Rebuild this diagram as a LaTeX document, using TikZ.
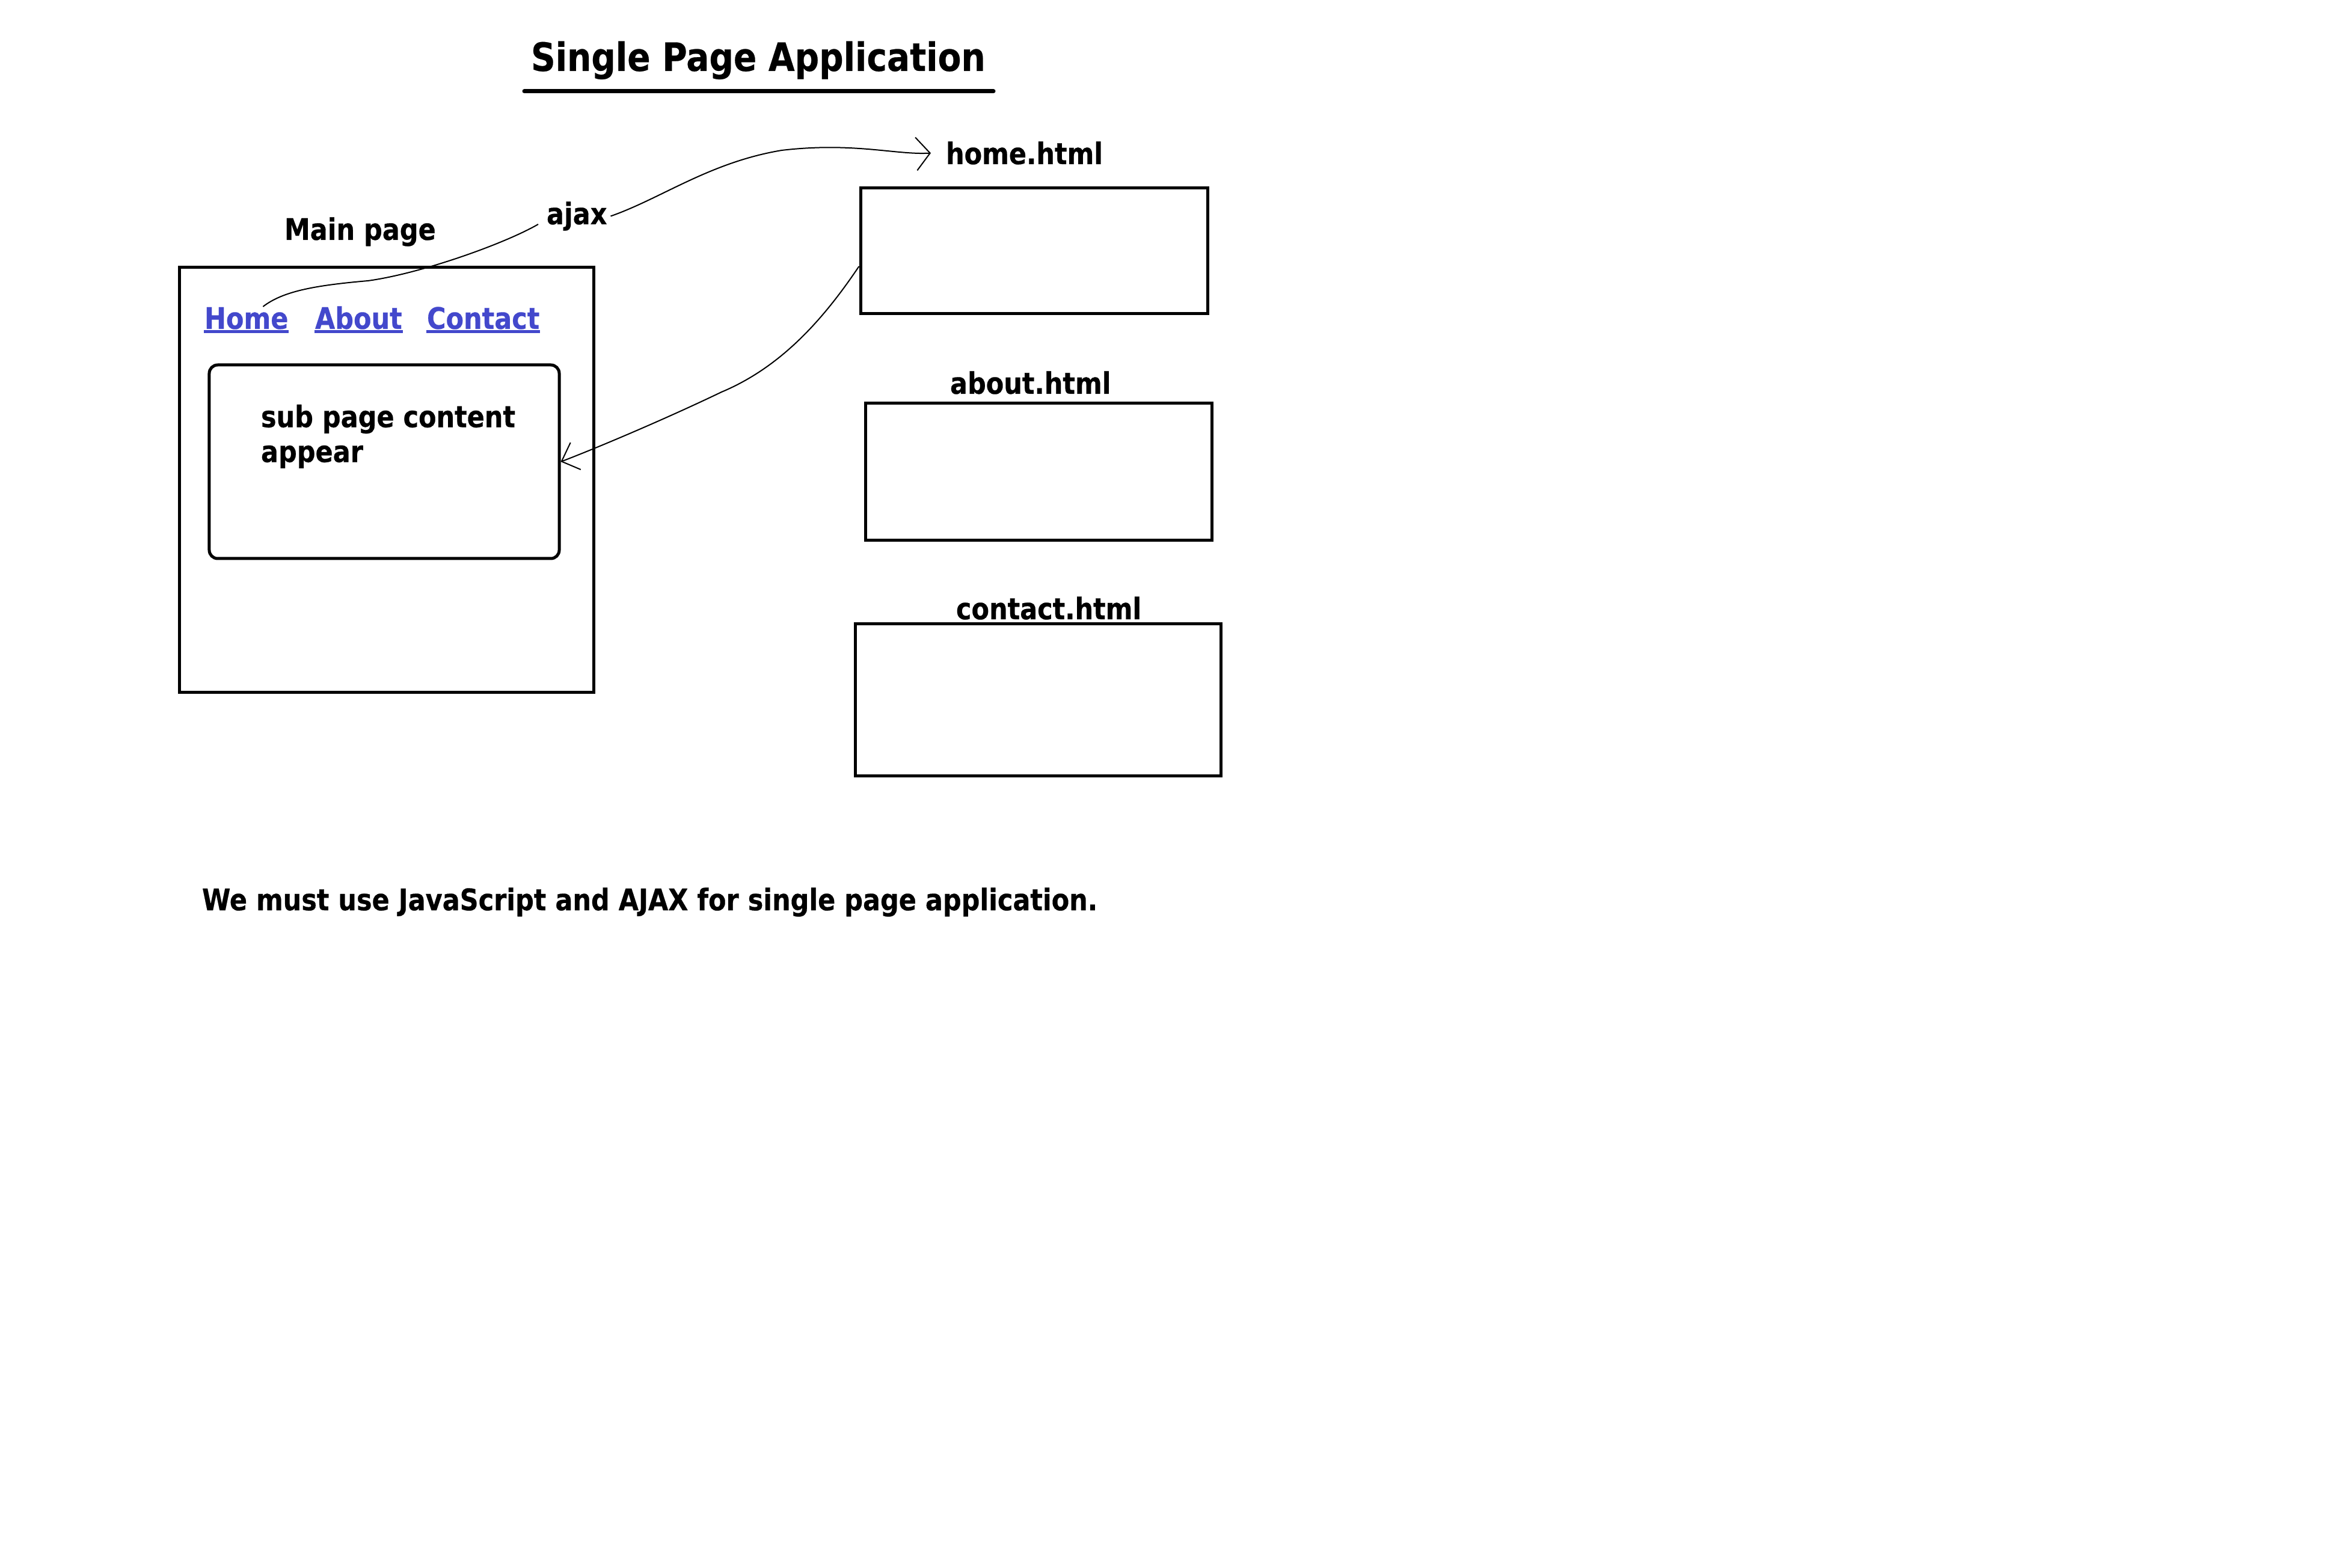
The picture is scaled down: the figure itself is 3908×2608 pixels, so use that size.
\documentclass[tikz,border=0pt]{standalone}
\usepackage{fontspec}
\newfontfamily\vf{DejaVu Sans Bold}[FakeStretch=0.87,FakeBold=0.4]
\usetikzlibrary{arrows.meta}
\definecolor{linkblue}{RGB}{67,72,204}
\begin{document}
\begin{tikzpicture}[x=0.2pt,y=-0.2pt,
  txt/.style={font={\vf\fontsize{9.88pt}{11.6pt}\selectfont}, inner sep=0pt, anchor=base west},
  ttl/.style={font={\vf\fontsize{13pt}{15pt}\selectfont}, inner sep=0pt, anchor=base west},
  link/.style={txt, text=linkblue},
  ulink/.style={draw=linkblue, line width=1pt},
  pagebox/.style={draw, line width=1pt, inner sep=0pt, rectangle},
  hand/.style={line width=0.4pt, draw=black}]
\path[use as bounding box] (0,0) rectangle (3908,2608);
% title
\node[ttl] (title) at (882,118) {Single Page Application};
\coordinate (ulA) at (872,152);
\coordinate (ulB) at (1652,152);
\draw[line width=1.4pt, line cap=round] (ulA) -- (ulB);
% main page
\node[txt] (mainlbl) at (472,399) {Main page};
\node[pagebox, minimum width=137.6pt, minimum height=141.2pt] (main) at (643,798) {};
\node[link] (lhome) at (339,547) {Home};
\node[link] (labout) at (523,547) {About};
\node[link] (lcontact) at (709,547) {Contact};
\draw[ulink] ([yshift=-1pt]lhome.base west) -- ([yshift=-1pt]lhome.base east);
\draw[ulink] ([yshift=-1pt]labout.base west) -- ([yshift=-1pt]labout.base east);
\draw[ulink] ([yshift=-1pt]lcontact.base west) -- ([yshift=-1pt]lcontact.base east);
\node[pagebox, rounded corners=2.8pt, minimum width=116.4pt, minimum height=64.4pt] (inner) at (639,768) {};
\node[txt, anchor=north west, align=left] (subtxt) at (433,672) {sub page content\\appear};
% sub pages
\node[txt] (ajax) at (908,373) {ajax};
\node[txt] (homelbl) at (1572,273) {home.html};
\node[pagebox, minimum width=115.4pt, minimum height=41.8pt] (homebox) at (1719.5,417.5) {};
\node[txt] (aboutlbl) at (1579,655) {about.html};
\node[pagebox, minimum width=115.2pt, minimum height=45.6pt] (aboutbox) at (1727,785) {};
\node[txt] (contactlbl) at (1589,1030) {contact.html};
\node[pagebox, minimum width=121.6pt, minimum height=50.4pt] (contactbox) at (1726,1164) {};
% note
\node[txt] (note) at (335,1514) {We must use JavaScript and AJAX for single page application.};
% connectors
\draw[hand] (lhome.35) .. controls (470,485) and (520,475) .. (612,467)
  .. controls (700,455) and (840,405) .. ([xshift=-2.6pt]ajax.base west);
\draw[hand, -{Straight Barb[length=4.6pt,width=11pt]}] ([xshift=1pt]ajax.east)
  .. controls (1100,330) and (1180,270) .. (1300,250)
  .. controls (1420,236) and (1490,258) .. ([xshift=-4.8pt]homelbl.west);
\draw[hand, -{Straight Barb[length=5pt,width=9.6pt]}] (homebox.185)
  .. controls (1370,530) and (1300,610) .. (1200,652)
  .. controls (1100,700) and (985,748) .. (inner.east);
\end{tikzpicture}
\end{document}
